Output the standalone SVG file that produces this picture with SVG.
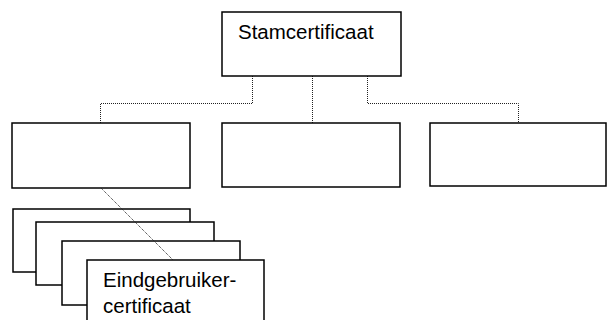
<svg xmlns="http://www.w3.org/2000/svg" width="607" height="320" viewBox="0 0 607 320">
<style>
.box{fill:#fff;stroke:#000;stroke-width:1.5}
.lbl{font-family:"Liberation Sans",Arial,sans-serif;font-size:20.5px;fill:#000}
.con{fill:none;stroke:#222;stroke-width:1;stroke-dasharray:1 1}
</style>
<rect width="607" height="320" fill="#fff"/>
<g id="connectors">
<path class="con" d="M252.5,76 V103.5 H100.5 V123"/>
<path class="con" d="M312.5,76 V123"/>
<path class="con" d="M367.5,76 V103.5 H518.5 V123"/>
</g>
<g id="root"><rect class="box" x="222" y="12" width="179" height="64"/><text class="lbl" x="238" y="39">Stamcertificaat</text></g>
<g id="child1"><rect class="box" x="12" y="123" width="178" height="65"/></g>
<g id="child2"><rect class="box" x="222" y="123" width="178" height="64"/></g>
<g id="child3"><rect class="box" x="430" y="123" width="176" height="63"/></g>
<g id="stack1"><rect class="box" x="13" y="209" width="177" height="63"/></g>
<g id="stack2"><rect class="box" x="36" y="222" width="178" height="63"/></g>
<g id="stack3"><rect class="box" x="62" y="241" width="178" height="64"/></g>
<g id="diag"><path class="con" d="M101,188 L173,260"/></g>
<g id="enduser"><rect class="box" x="87" y="260" width="177" height="70"/><text class="lbl" x="103" y="287">Eindgebruiker-</text><text class="lbl" x="103" y="313">certificaat</text></g>
</svg>
